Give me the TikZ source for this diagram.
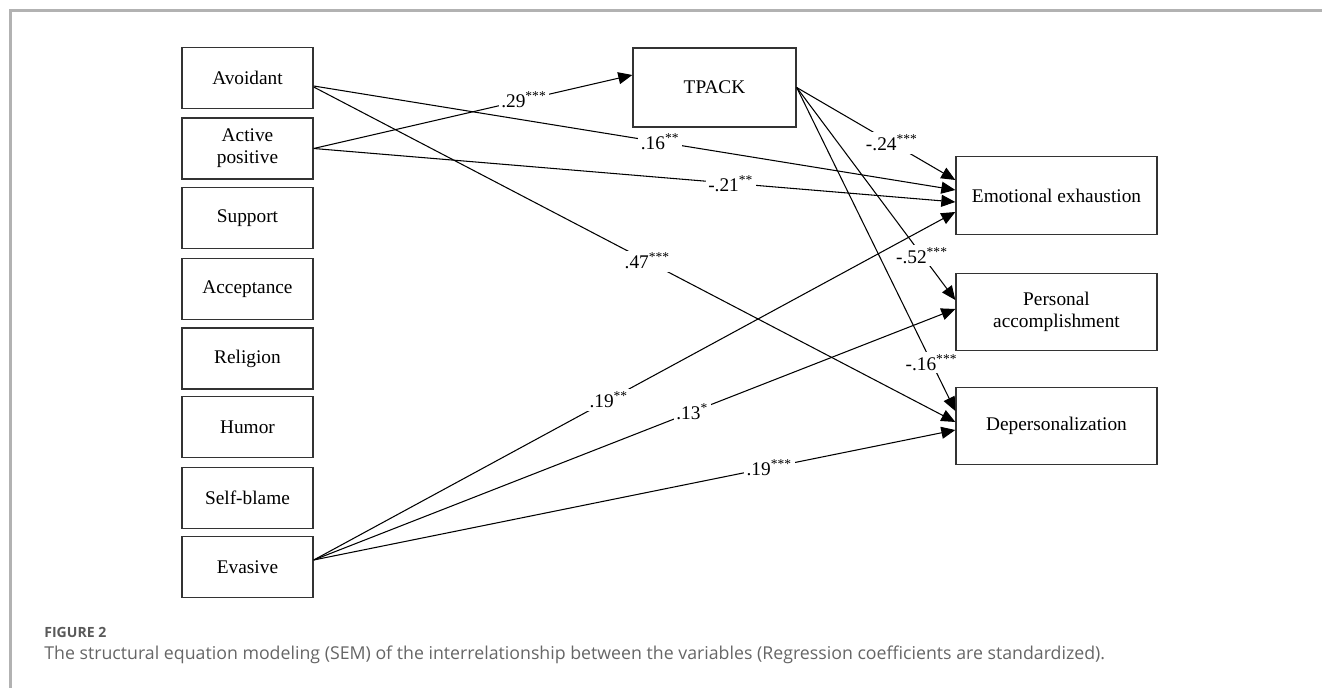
\documentclass[tikz,border=0pt]{standalone}
\usepackage{fontspec}
\setmainfont{Liberation Serif}
\newfontfamily\capfont{Open Sans}
\usetikzlibrary{arrows.meta}

\begin{document}
\begin{tikzpicture}[x=0.02cm,y=-0.02cm,
  var node/.style={rectangle,draw=black!80,line width=0.8pt,align=center,inner sep=0pt,
    font=\fontsize{11}{12.5}\selectfont},
  coping node/.style={var node,minimum width=2.62cm,minimum height=1.22cm},
  burnout node/.style={var node,minimum width=4.02cm,minimum height=1.55cm},
  coef/.style={fill=white,inner sep=1.5pt,font=\fontsize{11}{12.5}\selectfont}]

  \useasboundingbox (0,0) rectangle (1322,688);
  \draw[black!30,line width=1.2pt] (1322,10.5) -- (10.5,10.5) -- (10.5,688);

  \node[coping node] (c1) at (247.5,78) {Avoidant};
  \node[coping node] (c2) at (247.5,148.5) {Active\\positive};
  \node[coping node] (c3) at (247.5,218) {Support};
  \node[coping node] (c4) at (247.5,289) {Acceptance};
  \node[coping node] (c5) at (247.5,358.5) {Religion};
  \node[coping node] (c6) at (247.5,427) {Humor};
  \node[coping node] (c7) at (247.5,498) {Self-blame};
  \node[coping node] (c8) at (247.5,567) {Evasive};

  \node[var node,minimum width=3.26cm,minimum height=1.58cm] (t) at (714.5,87.5) {TPACK};

  \node[burnout node] (b1) at (1056.5,195.5) {Emotional exhaustion};
  \node[burnout node] (b2) at (1056.5,312) {Personal\\accomplishment};
  \node[burnout node] (b3) at (1056.5,426) {Depersonalization};

  \path[every edge/.style={draw,line width=0.6pt,-{Triangle[length=0.28cm,width=0.24cm]}}]
    ([yshift=-0.16cm]c1.east) edge node[coef,pos=0.54]{.16\textsuperscript{**}} ([yshift=0.11cm]b1.west)
    ([yshift=-0.18cm]c1.east) edge node[coef,pos=0.52]{.47\textsuperscript{***}} ([yshift=0.08cm]b3.west)
    (c2.east) edge node[coef,pos=0.66]{.29\textsuperscript{***}} ([yshift=0.25cm]t.west)
    (c2.east) edge node[coef,pos=0.65]{-.21\textsuperscript{**}} ([yshift=-0.13cm]b1.west)
    (t.east) edge node[coef,pos=0.6]{-.24\textsuperscript{***}} ([yshift=0.31cm]b1.west)
    (t.east) edge node[coef,pos=0.79]{-.52\textsuperscript{***}} ([yshift=0.24cm]b2.west)
    (t.east) edge node[coef,pos=0.85]{-.16\textsuperscript{***}} ([yshift=0.3cm]b3.west)
    ([yshift=0.14cm]c8.east) edge node[coef,pos=0.46]{.19\textsuperscript{**}} ([yshift=-0.33cm]b1.west)
    ([yshift=0.14cm]c8.east) edge node[coef,pos=0.59]{.13\textsuperscript{*}} ([yshift=0.06cm]b2.west)
    ([yshift=0.14cm]c8.east) edge node[coef,pos=0.71]{.19\textsuperscript{***}} ([yshift=-0.08cm]b3.west);

  \node[anchor=west,inner sep=0pt,text=black!65,font=\capfont\bfseries\fontsize{8}{10}\selectfont] (fig) at (44,632) {FIGURE 2};
  \node[anchor=west,inner sep=0pt,text=black!60,font=\capfont\fontsize{10.1}{12}\selectfont] (cap) at (44,655)
    {The structural equation modeling (SEM) of the interrelationship between the variables (Regression coefficients are standardized).};
\end{tikzpicture}
\end{document}
